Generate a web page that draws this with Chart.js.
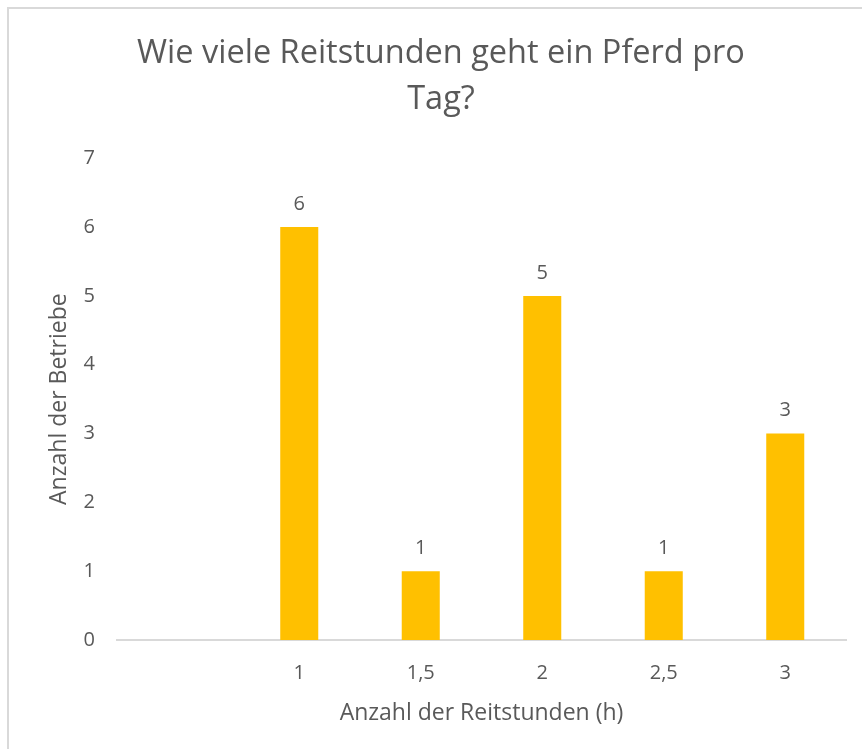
<!DOCTYPE html>
<html>
<head>
<meta charset="utf-8">
<script src="https://cdn.jsdelivr.net/npm/chart.js@4"></script>
<style>
  html, body { margin: 0; padding: 0; background: #fff; overflow: hidden; }
  #frame {
    position: absolute; left: 7px; top: 7px;
    width: 866px; height: 750px;
    border-left: 2px solid #d9d9d9; border-top: 2px solid #d9d9d9;
  }
  #wrap { position: absolute; left: 0; top: 0; width: 864px; height: 740px; }
</style>
</head>
<body>
<div id="frame"><div id="wrap"><canvas id="chart"></canvas></div></div>
<script>
// Chart data
const hours = ["", "1", "1,5", "2", "2,5", "3"];
const farms = [null, 6, 1, 5, 1, 3];
const yTicks = [0, 1, 2, 3, 4, 5, 6, 7];

const grey = "#595959";
const fontFamily = "'Open Sans', sans-serif";

// Value labels above the bars
const valueLabels = {
  id: "valueLabels",
  afterDatasetsDraw(chart) {
    const ctx = chart.ctx;
    const meta = chart.getDatasetMeta(0);
    ctx.save();
    ctx.font = "20px " + fontFamily;
    ctx.fillStyle = grey;
    ctx.textAlign = "center";
    ctx.textBaseline = "middle";
    meta.data.forEach((bar, i) => {
      const v = farms[i];
      if (v === null || v === undefined) return;
      ctx.fillText(String(v), bar.x, bar.y - 23);
    });
    ctx.restore();
  },
};

const ctx = document.getElementById("chart").getContext("2d");
new Chart(ctx, {
  type: "bar",
  data: {
    labels: hours,
    datasets: [
      {
        data: farms,
        backgroundColor: "#FFC000",
        categoryPercentage: 1,
        barPercentage: 0.313,
      },
    ],
  },
  options: {
    responsive: true,
    maintainAspectRatio: false,
    animation: false,
    layout: { padding: { left: 27, right: 27, top: 0, bottom: 0 } },
    plugins: {
      legend: { display: false },
      tooltip: { enabled: false },
      title: {
        display: true,
        text: ["Wie viele Reitstunden geht ein Pferd pro", "Tag?"],
        color: grey,
        font: { family: fontFamily, size: 32.5, weight: "normal", lineHeight: 1.42 },
        padding: { top: 22, bottom: 35 },
      },
    },
    scales: {
      x: {
        grid: { display: false, drawTicks: false },
        border: { display: true, color: "#d9d9d9", width: 2 },
        ticks: { color: grey, font: { family: fontFamily, size: 20 }, padding: 21, maxRotation: 0 },
        title: {
          display: true,
          text: "Anzahl der Reitstunden (h)",
          color: grey,
          font: { family: fontFamily, size: 23, lineHeight: 1.2 },
          padding: { top: 0, bottom: 22 },
        },
        afterFit(scale) { scale.height = 109; },
      },
      y: {
        min: 0,
        max: 7,
        afterBuildTicks(scale) { scale.ticks = yTicks.map((v) => ({ value: v })); },
        grid: { display: false, drawTicks: false },
        border: { display: false },
        ticks: { color: grey, font: { family: fontFamily, size: 20 }, padding: 22 },
        title: {
          display: true,
          text: "Anzahl der Betriebe",
          color: grey,
          font: { family: fontFamily, size: 23, lineHeight: 1.2 },
          padding: { top: 10, bottom: 0 },
        },
        afterFit(scale) { scale.width = 81; },
      },
    },
  },
  plugins: [valueLabels],
});
</script>
</body>
</html>
